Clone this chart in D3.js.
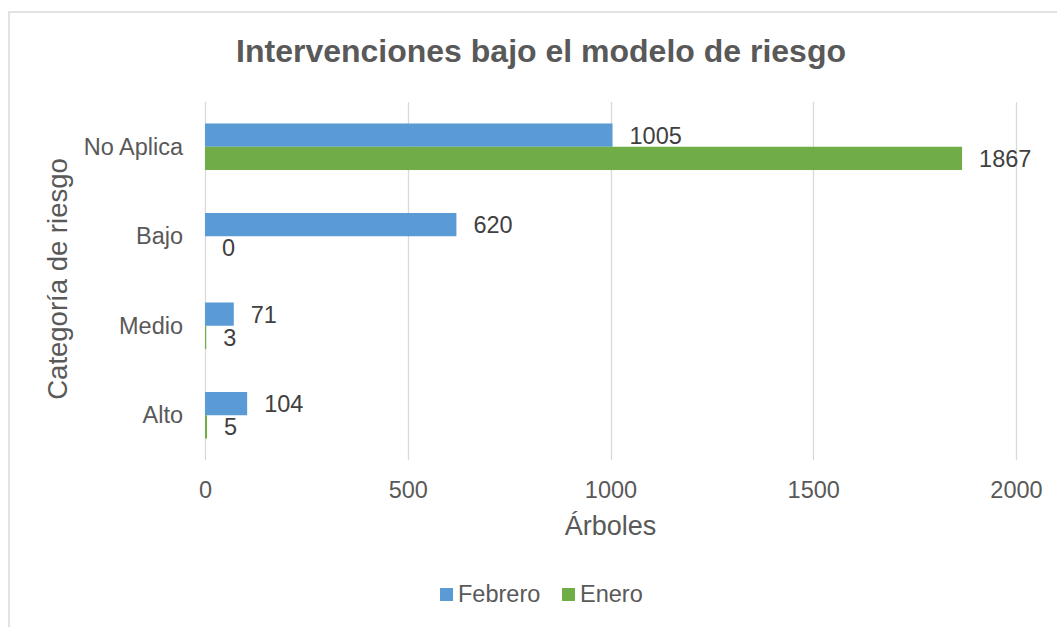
<!DOCTYPE html>
<html>
<head>
<meta charset="utf-8">
<script src="https://cdn.jsdelivr.net/npm/d3@7"></script>
<style>
  html, body { margin: 0; padding: 0; background: #fff; }
  svg { display: block; font-family: "Liberation Sans", Arial, sans-serif; }
</style>
</head>
<body>
<svg id="chart" width="1057" height="627"></svg>
<script>
const categories = ["No Aplica", "Bajo", "Medio", "Alto"];
const seriesNames = ["Febrero", "Enero"];
const febrero = [1005, 620, 71, 104];
const enero = [1867, 0, 3, 5];
const xTicks = [0, 500, 1000, 1500, 2000];
const colors = ["#5B9BD5", "#70AD47"];
const titleText = "Intervenciones bajo el modelo de riesgo";
const xTitle = "Árboles";
const yTitle = "Categoría de riesgo";

(function () {
const seriesValues = [febrero, enero];
const svg = d3.select("#chart");
const textColor = "#595959";
const gridColor = "#d9d9d9";
const fontFam = "Liberation Sans, Arial, sans-serif";

// chart border
svg.append("rect")
  .attr("x", 9).attr("y", 12)
  .attr("width", 1064).attr("height", 640)
  .attr("fill", "#fff")
  .attr("stroke", gridColor).attr("stroke-width", 1.5);

const pLeft = 205, pRight = 1016, pTop = 102, pBottom = 460;

const x = d3.scaleLinear().domain([0, 2000]).range([pLeft, pRight]);
const y0 = d3.scaleBand().domain(categories).range([pTop, pBottom])
  .paddingInner(0.48).paddingOuter(0.24);
const y1 = d3.scaleBand().domain(seriesNames).range([0, y0.bandwidth()]);

// gridlines
svg.append("g").selectAll("line").data(xTicks).join("line")
  .attr("x1", d => Math.round(x(d)) + 0.5).attr("x2", d => Math.round(x(d)) + 0.5)
  .attr("y1", pTop).attr("y2", pBottom)
  .attr("stroke", gridColor).attr("stroke-width", 1.3);

// x axis tick labels
const xAxis = d3.axisBottom(x).tickValues(xTicks).tickFormat(d3.format("d")).tickSize(0).tickPadding(0);
const gx = svg.append("g").attr("transform", `translate(0,${pBottom})`).call(xAxis);
gx.select(".domain").remove();
gx.selectAll("text")
  .attr("y", 38).attr("dy", null)
  .attr("fill", textColor).attr("font-size", "23.5px")
  .attr("font-family", fontFam);

// y axis labels
const yAxis = d3.axisLeft(y0).tickSize(0).tickPadding(0);
const gy = svg.append("g").attr("transform", `translate(${pLeft},0)`).call(yAxis);
gy.select(".domain").remove();
gy.selectAll("text")
  .attr("x", -22).attr("dy", "0.35em")
  .attr("fill", textColor).attr("font-size", "23.5px")
  .attr("font-family", fontFam);

// bars
const groups = svg.append("g").selectAll("g").data(categories).join("g")
  .attr("transform", d => `translate(0,${y0(d)})`);

groups.each(function(cat, ci) {
  const g = d3.select(this);
  seriesNames.forEach((s, si) => {
    const v = seriesValues[si][ci];
    g.append("rect")
      .attr("x", x(0))
      .attr("y", y1(s))
      .attr("width", x(v) - x(0))
      .attr("height", y1.bandwidth())
      .attr("fill", colors[si]);
    g.append("text")
      .attr("x", x(v) + 17)
      .attr("y", y1(s) + y1.bandwidth() / 2)
      .attr("dy", "0.36em")
      .attr("fill", "#404040")
      .attr("font-size", "23.5px")
      .text(v);
  });
});

// title
svg.append("text")
  .attr("x", 541).attr("y", 62)
  .attr("text-anchor", "middle")
  .attr("font-size", "32px").attr("font-weight", "bold")
  .attr("fill", textColor)
  .text(titleText);

// axis titles
svg.append("text")
  .attr("x", (pLeft + pRight) / 2).attr("y", 535)
  .attr("text-anchor", "middle")
  .attr("font-size", "27px").attr("fill", textColor)
  .text(xTitle);

svg.append("text")
  .attr("transform", `translate(67,${(pTop + pBottom) / 2 - 2}) rotate(-90)`)
  .attr("text-anchor", "middle")
  .attr("font-size", "27.5px").attr("fill", textColor)
  .text(yTitle);

// legend
const legendItems = [{name: seriesNames[0], x: 440}, {name: seriesNames[1], x: 562}];
const lg = svg.append("g").selectAll("g").data(legendItems).join("g");
lg.append("rect")
  .attr("x", d => d.x).attr("y", 588)
  .attr("width", 13).attr("height", 13)
  .attr("fill", (d, i) => colors[i]);
lg.append("text")
  .attr("x", d => d.x + 18).attr("y", 602)
  .attr("font-size", "23.5px").attr("fill", textColor)
  .text(d => d.name);
})();
</script>
</body>
</html>
